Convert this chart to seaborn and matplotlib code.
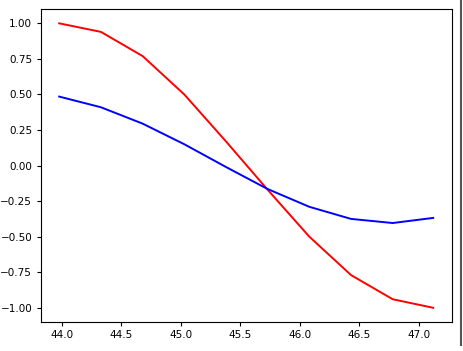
import matplotlib
matplotlib.use("Agg")
import matplotlib.pyplot as plt
import seaborn as sns
from matplotlib.lines import Line2D

# --- DATA ---
x_vals = [43.98, 44.33, 44.68, 45.03, 45.38, 45.73, 46.08, 46.43, 46.78, 47.12]
red_vals = [1.00, 0.94, 0.77, 0.50, 0.17, -0.17, -0.50, -0.77, -0.94, -1.00]
blue_vals = [0.485, 0.41, 0.295, 0.15, -0.01, -0.165, -0.29, -0.375, -0.404, -0.368]

fig = plt.figure(figsize=(4.63, 3.51), dpi=100)
ax = fig.add_axes([0.0875, 0.0826, 0.8885, 0.8914])

sns.lineplot(x=x_vals, y=red_vals, color="red", linewidth=1.4, ax=ax)
sns.lineplot(x=x_vals, y=blue_vals, color="blue", linewidth=1.4, ax=ax)

ax.set_yticks([-1.0, -0.75, -0.5, -0.25, 0.0, 0.25, 0.5, 0.75, 1.0])
ax.set_xticks([44.0, 44.5, 45.0, 45.5, 46.0, 46.5, 47.0])
ax.tick_params(labelsize=7.5, length=3, pad=3)

# grey strip at the right edge of the screenshot
fig.add_artist(Line2D([0.9965, 0.9965], [0.017, 1.0], color="#555555", linewidth=1.5))

fig.savefig("out.png", dpi=100)
